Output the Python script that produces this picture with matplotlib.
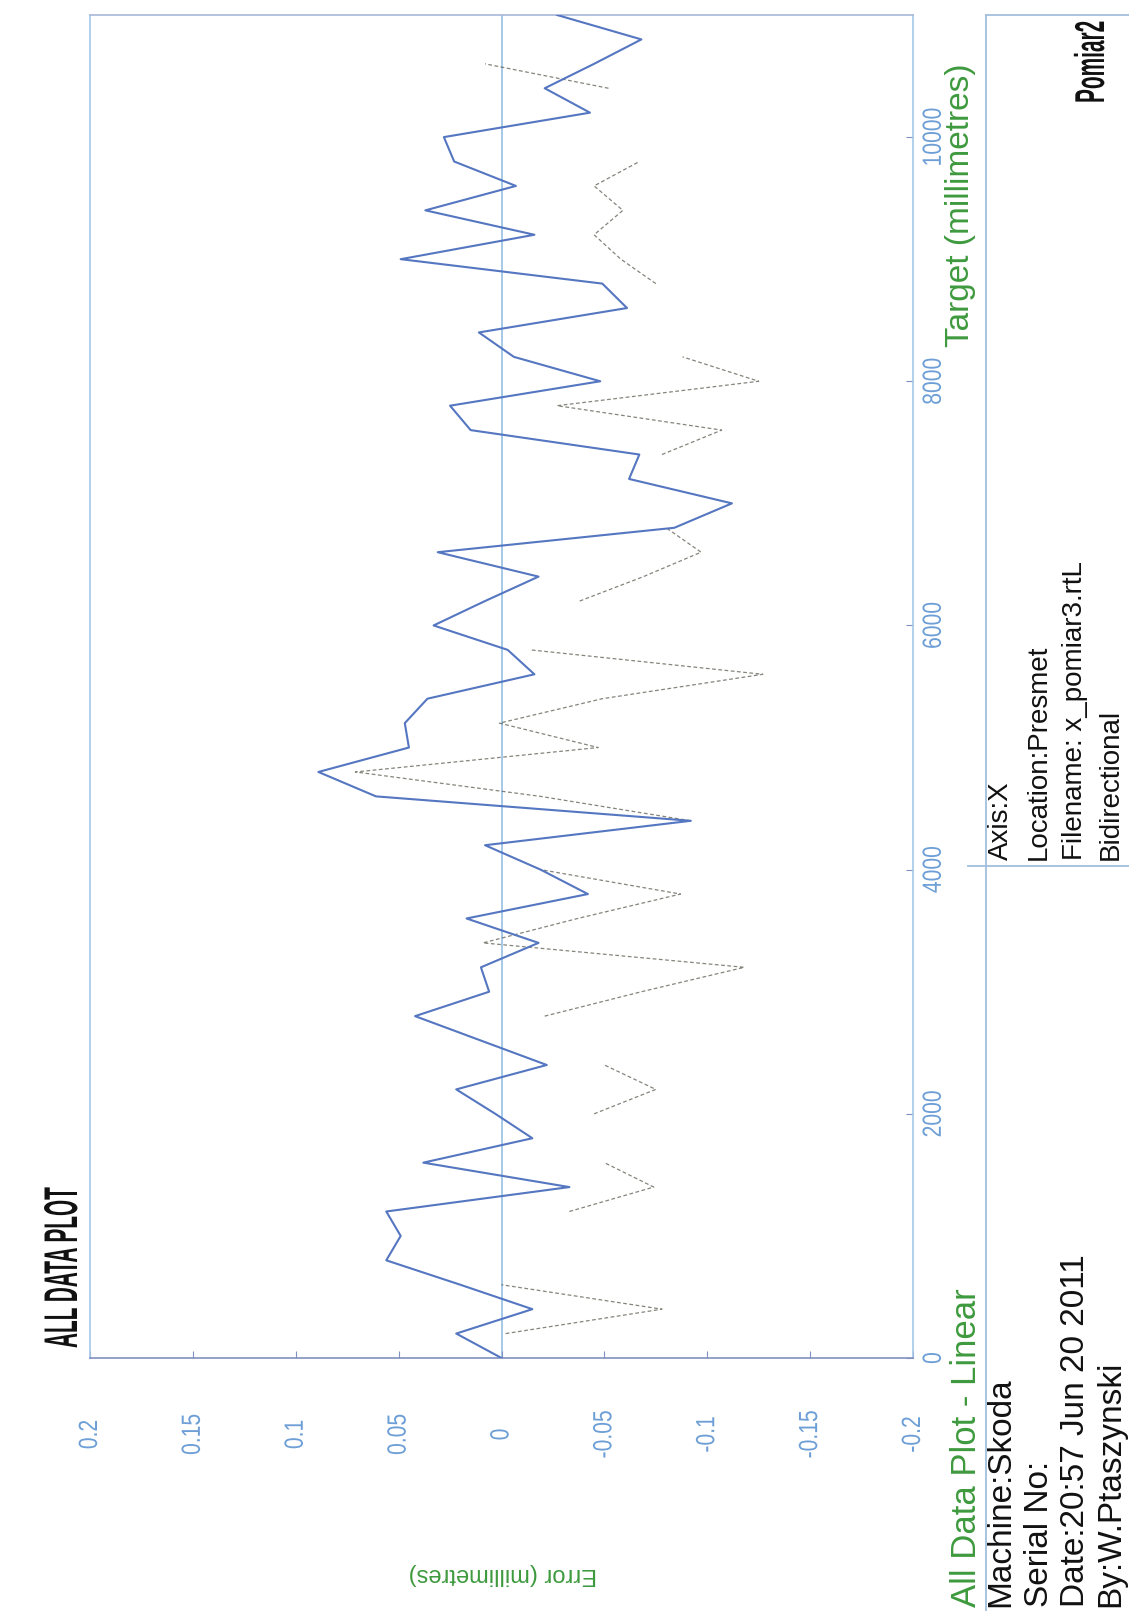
import numpy as np
import matplotlib
matplotlib.use("Agg")
import matplotlib.pyplot as plt
from matplotlib.lines import Line2D
from matplotlib.patheffects import AbstractPathEffect
from matplotlib.transforms import Affine2D

# ---------------- data ----------------
target = [0, 200, 400, 600, 800, 1000, 1200, 1400, 1600, 1800,
          2000, 2200, 2400, 2600, 2800, 3000, 3200, 3400, 3600, 3800,
          4000, 4200, 4400, 4600, 4800, 5000, 5200, 5400, 5600, 5800,
          6000, 6200, 6400, 6600, 6800, 7000, 7200, 7400, 7600, 7800,
          8000, 8200, 8400, 8600, 8800, 9000, 9200, 9400, 9600, 9800,
          10000, 10200, 10400, 10600, 10800, 11000]

run_blue = [0.000, 0.022, -0.015, 0.020, 0.056, 0.049, 0.056, -0.033, 0.038, -0.015,
            0.003, 0.022, -0.022, 0.010, 0.042, 0.006, 0.010, -0.018, 0.017, -0.042,
            -0.019, 0.008, -0.092, 0.061, 0.089, 0.045, 0.047, 0.036, -0.016, -0.003,
            0.033, 0.008, -0.018, 0.031, -0.084, -0.112, -0.062, -0.067, 0.015, 0.025,
            -0.048, -0.006, 0.011, -0.061, -0.049, 0.049, -0.016, 0.037, -0.007, 0.023,
            0.028, -0.043, -0.021, -0.045, -0.068, -0.027]

nan = float("nan")
run_dashed = [nan, -0.002, -0.078, 0.000, nan, nan, -0.033, -0.074, -0.050, nan,
              -0.045, -0.075, -0.050, nan, -0.021, -0.068, -0.118, 0.009, -0.037, -0.087,
              -0.019, nan, -0.092, -0.019, 0.071, -0.047, 0.001, -0.049, -0.127, -0.014,
              nan, -0.038, -0.069, -0.097, -0.080, nan, nan, -0.078, -0.107, -0.027,
              -0.125, -0.088, nan, nan, -0.075, -0.058, -0.045, -0.059, -0.045, -0.067,
              nan, nan, -0.052, 0.008, nan, nan]

err_ticks = [0.2, 0.15, 0.1, 0.05, 0.0, -0.05, -0.1, -0.15, -0.2]
err_labels = ["0.2", "0.15", "0.1", "0.05", "0", "-0.05", "-0.1", "-0.15", "-0.2"]
tgt_ticks = [0, 2000, 4000, 6000, 8000, 10000]
tgt_labels = ["0", "2000", "4000", "6000", "8000", "10000"]

info_left = ["Machine:Skoda", "Serial No:", "Date:20:57 Jun 20 2011", "By:W.Ptaszynski"]
info_right = ["Axis:X", "Location:Presmet", "Filename: x_pomiar3.rtL", "Bidirectional"]

# ---------------- style ----------------
W, H = 1129, 1611
SANS = ["Liberation Sans", "DejaVu Sans"]
GREEN = "#3e9a3e"
TICKBLUE = "#6d9fd6"
FRAME = "#a3c8ea"
LINEBLUE = "#5576c0"


class Squash(AbstractPathEffect):
    """Narrow the glyphs along the writing direction (condensed look).
    pivot: 'start', 'center' or 'end' of the string stays in place."""

    def __init__(self, sx, pivot="start"):
        super().__init__()
        self.sx = sx
        self.pivot = pivot

    def draw_path(self, renderer, gc, tpath, affine, rgbFace=None):
        v = tpath.vertices
        if len(v):
            xmin, xmax = float(np.min(v[:, 0])), float(np.max(v[:, 0]))
        else:
            xmin = xmax = 0.0
        if self.pivot == "center":
            p = 0.5 * (xmin + xmax)
        elif self.pivot == "end":
            p = xmax
        else:
            p = 0.0
        t = Affine2D().translate(-p, 0).scale(self.sx, 1.0).translate(p, 0)
        renderer.draw_path(gc, tpath, t + affine, rgbFace)


def fx(px):
    return px / W


def fy(py):
    return 1 - py / H


fig = plt.figure(figsize=(W / 100, H / 100), dpi=100)
fig.patch.set_facecolor("white")

ax = fig.add_axes([fx(90), fy(1358), 823 / W, 1343 / H])
ax.set_facecolor("white")

ax.axvline(0.0, color="#8dbbe3", lw=1.1, zorder=1)
ax.plot(run_dashed, target, color="#5c5c50", lw=0.9, ls=(0, (3, 2)), alpha=0.75, zorder=2)
ax.plot(run_blue, target, color=LINEBLUE, lw=1.5, zorder=3)

ax.set_xlim(0.2, -0.2)
ax.set_ylim(0, 11000)

for side, sp in ax.spines.items():
    sp.set_color(FRAME)
    sp.set_linewidth(1.2)
ax.spines["bottom"].set_color("#8090c0")
ax.spines["top"].set_color("#a8b8d8")

ax.set_xticks(err_ticks, err_labels)
ax.tick_params(axis="x", direction="in", length=5, color="#8090c0",
               labelcolor=TICKBLUE, labelsize=19, labelrotation=90, pad=55)
for lbl in ax.get_xticklabels():
    lbl.set_va("center")
    lbl.set_ha("center")
    lbl.set_fontfamily(SANS)
    lbl.set_path_effects([Squash(0.8, "center")])

ax.yaxis.tick_right()
ax.set_yticks(tgt_ticks, tgt_labels)
ax.tick_params(axis="y", direction="in", length=5, color="#8090c0",
               labelcolor=TICKBLUE, labelsize=19, labelrotation=90, pad=15)
for lbl in ax.get_yticklabels():
    lbl.set_va("center")
    lbl.set_ha("center")
    lbl.set_fontfamily(SANS)
    lbl.set_path_effects([Squash(0.8, "center")])

# ---------------- texts ----------------
t1 = fig.text(fx(65), fy(1348), "ALL DATA PLOT", rotation=90, ha="center", va="bottom",
              fontsize=34, family=SANS, fontweight="bold", color="#111111")
t1.set_path_effects([Squash(0.44, "start")])
t2 = fig.text(fx(1093), fy(20), "Pomiar2", rotation=90, ha="center", va="top",
              fontsize=30, family=SANS, fontweight="bold", color="#111111")
t2.set_path_effects([Squash(0.5, "end")])

fig.text(fx(961), fy(205), "Target (millimetres)", rotation=90, ha="center", va="center",
         fontsize=24, family=SANS, color=GREEN)
fig.text(fx(503), fy(1574), "Error (millimetres)", rotation=180, ha="center", va="center",
         fontsize=17, family=SANS, color=GREEN)
fig.text(fx(967), fy(1607), "All Data Plot - Linear", rotation=90, ha="center", va="bottom",
         fontsize=25, family=SANS, color=GREEN)

cols = [1001, 1039, 1075, 1111]
for c, s in zip(cols, info_left):
    fig.text(fx(c), fy(1607), s, rotation=90, ha="center", va="bottom",
             fontsize=24, family=SANS, color="#111111")
for c, s in zip(cols, info_right):
    fig.text(fx(c), fy(860), s, rotation=90, ha="center", va="bottom",
             fontsize=20, family=SANS, color="#111111")

# info box frame
box_color = "#a3bedc"
fig.add_artist(Line2D([fx(986), fx(986)], [fy(15), fy(1611)], color=box_color, lw=1.3))
fig.add_artist(Line2D([fx(986), fx(1129)], [fy(15), fy(15)], color=box_color, lw=1.3))
fig.add_artist(Line2D([fx(968), fx(1129)], [fy(866), fy(866)], color=box_color, lw=1.3))

fig.savefig("out.png", dpi=100, facecolor="white")
